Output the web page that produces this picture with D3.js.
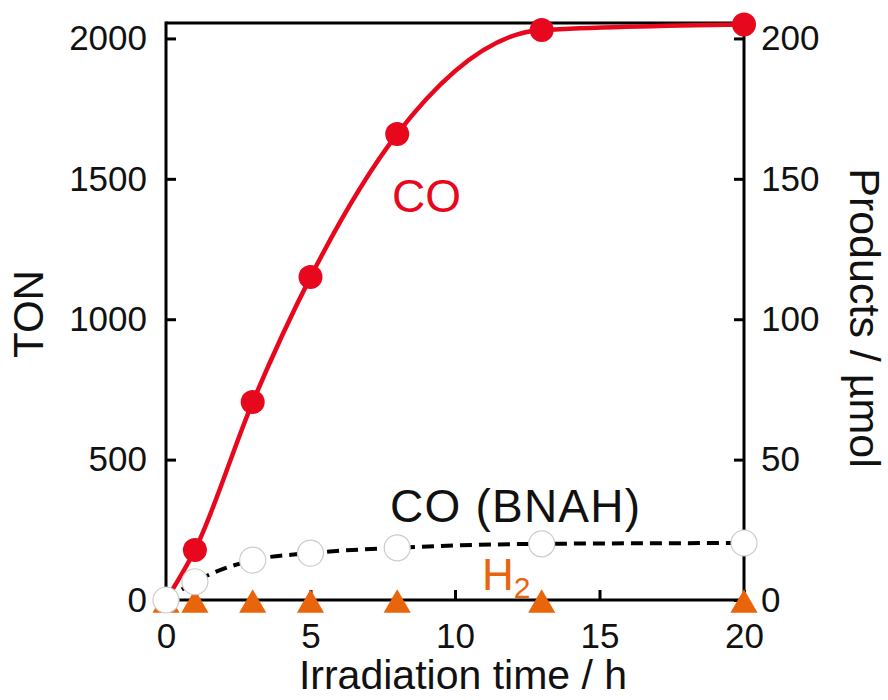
<!DOCTYPE html>
<html><head><meta charset="utf-8">
<script src="https://cdn.jsdelivr.net/npm/d3@7"></script>
<style>body{margin:0;background:#fff}svg{display:block}text{font-family:"Liberation Sans",Arial,sans-serif}</style>
</head><body><svg id="c" width="888" height="700"></svg>
<script>
const times = [0, 1, 3, 5, 8, 13, 20];
const coTON = [0, 178, 705, 1150, 1660, 2030, 2050];
const coBNAH = [0, 65, 142, 167, 186, 200, 203];
const h2 = [0, 0, 0, 0, 0, 0, 0];
const xTicks = [0, 5, 10, 15, 20];
const yTicks = [0, 500, 1000, 1500, 2000];
const y2Ticks = [0, 50, 100, 150, 200];

const svg = d3.select("#c");
const L = 166, R = 744, T = 23, B = 600;
const x = d3.scaleLinear().domain([0, 20]).range([L, R]);
const y = d3.scaleLinear().domain([0, 2055]).range([B, T]);
const y2 = d3.scaleLinear().domain([0, 205.5]).range([B, T]);
const red = "#e8081e", orange = "#e8650c";
const FF = '"Liberation Sans",Arial,sans-serif';

svg.append("line").attr("x1", L).attr("x2", R).attr("y1", T).attr("y2", T)
  .attr("stroke", "#000").attr("stroke-width", 3);

const fs = 35;
const gL = svg.append("g").attr("transform", `translate(${L},0)`)
  .call(d3.axisLeft(y).tickValues(yTicks).tickSize(-10).tickPadding(19).tickFormat(d3.format("d")));
const gR = svg.append("g").attr("transform", `translate(${R},0)`)
  .call(d3.axisRight(y2).tickValues(y2Ticks).tickSize(-10).tickPadding(17).tickFormat(d3.format("d")));
const gB = svg.append("g").attr("transform", `translate(0,${B})`)
  .call(d3.axisBottom(x).tickValues(xTicks).tickSize(-10).tickPadding(23).tickFormat(d3.format("d")));
[gL, gR, gB].forEach(g => {
  g.select(".domain").remove();
  g.selectAll(".tick line").attr("stroke-width", 3);
  g.selectAll("text").attr("font-size", fs).attr("fill", "#111").style("font-family", FF);
});
svg.append("line").attr("x1", L).attr("x2", L).attr("y1", T - 1.5).attr("y2", B + 1.5).attr("stroke", "#000").attr("stroke-width", 3);
svg.append("line").attr("x1", R).attr("x2", R).attr("y1", T - 1.5).attr("y2", B + 1.5).attr("stroke", "#000").attr("stroke-width", 3);
svg.append("line").attr("x1", L).attr("x2", R).attr("y1", B).attr("y2", B).attr("stroke", "#000").attr("stroke-width", 3);
gB.selectAll("text").attr("dy", "0.71em");

const dCO = times.map((t, i) => [t, coTON[i]]);
const dB = times.map((t, i) => [t, coBNAH[i]]);
const dH = times.map((t, i) => [t, h2[i]]);
const line = d3.line().x(d => x(d[0])).y(d => y(d[1])).curve(d3.curveMonotoneX);
svg.append("path").attr("d", line(dB)).attr("fill", "none").attr("stroke", "#000")
  .attr("stroke-width", 4).attr("stroke-dasharray", "12,7");
svg.append("path").attr("d", line(dCO)).attr("fill", "none").attr("stroke", red).attr("stroke-width", 4.5);

svg.selectAll(".tri").data(dH).enter().append("path")
  .attr("d", d3.symbol(d3.symbolTriangle, 320))
  .attr("transform", d => `translate(${x(d[0])},${y(d[1]) + 5})`)
  .attr("fill", orange);

svg.selectAll(".wc").data(dB).enter().append("circle")
  .attr("cx", d => x(d[0])).attr("cy", d => y(d[1])).attr("r", 13)
  .attr("fill", "#fff").attr("stroke", "#ccc").attr("stroke-width", 1.2);
svg.selectAll(".rc").data(dCO.slice(1)).enter().append("circle")
  .attr("cx", d => x(d[0])).attr("cy", d => y(d[1])).attr("r", 12)
  .attr("fill", red);

svg.append("text").attr("x", 392).attr("y", 212)
  .attr("font-size", 46).attr("fill", red).text("CO");
svg.append("text").attr("x", 390).attr("y", 522).attr("textLength", 250)
  .attr("font-size", 46).attr("fill", "#111").text("CO (BNAH)");
const h2t = svg.append("text").attr("x", 482).attr("y", 590).attr("font-size", 44).attr("fill", orange);
h2t.append("tspan").text("H");
h2t.append("tspan").attr("font-size", 30).attr("dy", 8).text("2");

svg.append("text").attr("transform", "translate(43,314) rotate(-90)").attr("text-anchor", "middle")
  .attr("font-size", 42).attr("fill", "#111").text("TON");
svg.append("text").attr("transform", "translate(850,318) rotate(90)").attr("text-anchor", "middle")
  .attr("font-size", 43).attr("fill", "#111").text("Products / µmol");
svg.append("text").attr("x", 463).attr("y", 689).attr("text-anchor", "middle")
  .attr("font-size", 41).attr("fill", "#111").text("Irradiation time / h");
</script></body></html>
